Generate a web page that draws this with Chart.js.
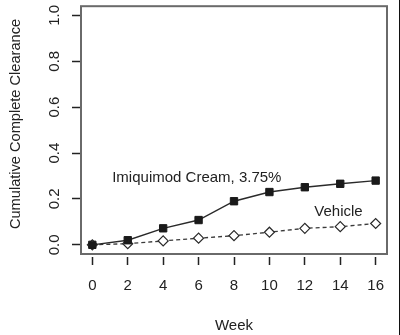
<!DOCTYPE html>
<html>
<head>
<meta charset="utf-8">
<script src="https://cdn.jsdelivr.net/npm/chart.js@4.4.0/dist/chart.umd.min.js"></script>
<style>
  html, body { margin: 0; padding: 0; background: #fff; }
  canvas { display: block; }
</style>
</head>
<body>
<canvas id="clearanceChart" width="400" height="335"></canvas>
<script>
const weeks = [0, 2, 4, 6, 8, 10, 12, 14, 16];
const imiquimod = [0, 0.02, 0.072, 0.108, 0.19, 0.23, 0.251, 0.266, 0.28];
const vehicle = [0, 0.005, 0.017, 0.029, 0.04, 0.055, 0.072, 0.079, 0.093];
const yTicks = [0, 0.2, 0.4, 0.6, 0.8, 1.0];

const FONT = "'Liberation Sans', Arial, sans-serif";
const INK = '#222';

const toPoints = (ys) => weeks.map((w, i) => ({ x: w, y: ys[i] }));

// box, rotated y labels, y title, series labels, right edge line
const decorations = {
    id: 'decorations',
    afterDraw(chart) {
        const ctx = chart.ctx;
        const area = chart.chartArea;
        const x = chart.scales.x;
        const y = chart.scales.y;
        ctx.save();

        ctx.strokeStyle = '#6a6a6a';
        ctx.lineWidth = 2;
        ctx.strokeRect(area.left, area.top, area.right - area.left, area.bottom - area.top);

        ctx.fillStyle = INK;
        ctx.font = '15px ' + FONT;
        ctx.textAlign = 'center';
        ctx.textBaseline = 'middle';
        y.ticks.forEach(t => {
            ctx.save();
            ctx.translate(55, y.getPixelForValue(t.value));
            ctx.rotate(-Math.PI / 2);
            ctx.fillText(t.value.toFixed(1), 0, 0);
            ctx.restore();
        });

        ctx.save();
        ctx.translate(16, 124);
        ctx.rotate(-Math.PI / 2);
        ctx.font = '14.6px ' + FONT;
        ctx.fillText('Cumulative Complete Clearance', 0, 0);
        ctx.restore();

        ctx.fillText('Imiquimod Cream, 3.75%', x.getPixelForValue(5.9), y.getPixelForValue(0.29));
        ctx.fillText('Vehicle', x.getPixelForValue(13.9), y.getPixelForValue(0.142));

        ctx.strokeStyle = '#111';
        ctx.lineWidth = 1;
        ctx.beginPath();
        ctx.moveTo(399.5, 0);
        ctx.lineTo(399.5, chart.height);
        ctx.stroke();
        ctx.restore();
    }
};

new Chart(document.getElementById('clearanceChart'), {
    type: 'line',
    data: {
        datasets: [{
            label: 'Imiquimod Cream, 3.75%',
            data: toPoints(imiquimod),
            borderColor: '#2a2a2a',
            borderWidth: 1.4,
            pointStyle: 'rect',
            pointRadius: 5.2,
            pointBackgroundColor: '#1a1a1a',
            pointBorderColor: '#1a1a1a',
            pointBorderWidth: 1
        }, {
            label: 'Vehicle',
            data: toPoints(vehicle),
            borderColor: '#3a3a3a',
            borderWidth: 1.3,
            borderDash: [4, 3],
            pointStyle: 'rectRot',
            pointRadius: 5,
            pointBackgroundColor: '#fff',
            pointBorderColor: '#2a2a2a',
            pointBorderWidth: 1.2
        }]
    },
    options: {
        responsive: false,
        animation: false,
        layout: { padding: { left: 0, right: 13, top: 5, bottom: 0 } },
        plugins: {
            legend: { display: false },
            tooltip: { enabled: false }
        },
        scales: {
            x: {
                type: 'linear',
                min: -0.64,
                max: 16.64,
                afterBuildTicks: (scale) => { scale.ticks = weeks.map(v => ({ value: v })); },
                afterFit: (scale) => { scale.height = 81; },
                border: { display: false },
                grid: {
                    drawOnChartArea: false,
                    drawTicks: true,
                    tickLength: 11,
                    tickColor: INK,
                    tickWidth: 1.5,
                    tickBorderDash: [0, 3, 8, 50]
                },
                ticks: {
                    color: INK,
                    font: { family: FONT, size: 15 },
                    padding: 12,
                    maxRotation: 0,
                    callback: (v) => String(v)
                },
                title: {
                    display: true,
                    text: 'Week',
                    color: INK,
                    font: { family: FONT, size: 15 },
                    padding: 0
                }
            },
            y: {
                min: -0.04,
                max: 1.04,
                afterBuildTicks: (scale) => { scale.ticks = yTicks.map(v => ({ value: v })); },
                afterFit: (scale) => { scale.width = 81; },
                border: { display: false },
                grid: {
                    drawOnChartArea: false,
                    drawTicks: true,
                    tickLength: 9,
                    tickColor: INK,
                    tickWidth: 1.5
                },
                ticks: {
                    display: false
                }
            }
        }
    },
    plugins: [decorations]
});
</script>
</body>
</html>
